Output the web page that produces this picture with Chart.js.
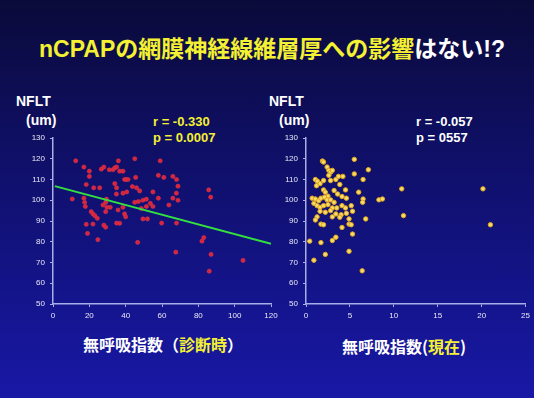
<!DOCTYPE html>
<html>
<head>
<meta charset="utf-8">
<script src="https://cdn.jsdelivr.net/npm/chart.js@4/dist/chart.umd.min.js"></script>
<style>
  html,body{margin:0;padding:0;}
  body{width:534px;height:398px;overflow:hidden;position:relative;
    background:linear-gradient(to bottom,#0a0a3a 0%,#10106e 45%,#1818a6 100%);
    font-family:"Liberation Sans","Noto Sans CJK JP",sans-serif;font-weight:bold;color:#fff;}
  .txt{position:absolute;white-space:nowrap;line-height:1;}
  .yel{color:#f4f032;}
  .box{position:absolute;}
</style>
</head>
<body>
<div class="txt" id="title" style="left:39px;top:38px;font-size:23px;"><span class="yel">nCPAPの網膜神経線維層厚への影響</span>はない!?</div>

<div class="txt" style="left:16px;top:94px;font-size:14px;">NFLT</div>
<div class="txt" style="left:26px;top:113px;font-size:14px;">(um)</div>
<div class="txt" style="left:269px;top:94px;font-size:14px;">NFLT</div>
<div class="txt" style="left:279px;top:113px;font-size:14px;">(um)</div>

<div class="txt yel" style="left:153px;top:115px;font-size:13px;">r = -0.330</div>
<div class="txt yel" style="left:153px;top:131px;font-size:13px;">p = 0.0007</div>
<div class="txt" style="left:416px;top:115px;font-size:13px;">r = -0.057</div>
<div class="txt" style="left:416px;top:131px;font-size:13px;">p = 0557</div>

<div class="txt" style="left:83px;top:336px;font-size:16px;font-family:'Noto Sans CJK JP',sans-serif;">無呼吸指数（<span class="yel">診断時</span>）</div>
<div class="txt" style="left:342px;top:338px;font-size:16px;font-family:'Noto Sans CJK JP',sans-serif;">無呼吸指数(<span class="yel">現在</span>)</div>

<div class="box" style="left:0;top:128px;width:285px;height:196px;"><canvas id="leftChart"></canvas></div>
<div class="box" style="left:253px;top:128px;width:281px;height:196px;"><canvas id="rightChart"></canvas></div>

<script>
// ----------------- Data -----------------
const yTicks = [50,60,70,80,90,100,110,120,130];

// AHI at diagnosis vs NFLT
const diagX = [12.5,17,20,20,18.3,22.4,25.7,26.6,28,31,33,34,35,36,36.7,38.5,39.4,40.4,41.3,45,45.5,34,35,34.9,38.5,40.6,43.7,46,47.7,49.5,51.4,47,45,53.6,55,51.4,48.6,49.5,52,55,58,59,58,61,66,68,68.8,67.9,66,68.8,63.8,59.8,68,85.7,86.8,10.6,17,17.4,17.8,21,22,23,24.4,18.3,22,19,28,29,29.7,29,29.4,27.5,31.5,29,35,36.7,39.4,40,38.5,35.8,24.7,46.6,67.6,83,82,87,86,104.6];
const diagY = [119,116,114,111.5,107.6,106,106,115,116,114.7,114.7,115.6,116,119,114,114,110,110,110,120,111,108,106,103,103.4,104,106.6,106,104.5,100,100.5,99.4,99,98.5,97,97,96,91,91,104,101,119,112,111,111.5,110,106.8,103.4,101,100,97.7,89,89,105,101.5,100.6,101,99,97,94.5,93.4,92.6,91.3,88.4,88.5,84,88,87,96.6,99,100.5,97.7,96.6,94.5,89,88.9,93.4,92,96.6,95.3,81,79.7,75,82,80.3,73.9,65.8,71];
const fitX = [1,120];
const fitY = [106.8,79];

// current AHI vs NFLT
const nowX = [1.87,2.0,5.5,7.1,2.4,2.6,2.8,3.0,2.6,5.5,1.07,1.3,1.2,1.6,2.0,2.8,3.4,3.7,4.2,3.85,4.5,6.5,2.0,2.2,2.5,3.2,3.6,4.1,4.6,6.0,6.5,6.45,0.7,1.07,1.45,1.7,2.1,2.4,2.8,3.2,0.9,1.26,1.6,2.0,2.5,3.0,3.5,4.1,4.5,5.15,1.6,2.2,2.8,3.4,4.0,4.6,5.3,1.26,1.07,1.7,2.0,3.0,3.85,4.9,4.9,5.15,4.1,5.3,6.8,8.3,8.7,10.9,11.1,20.15,21.0,0.42,1.7,3.0,3.4,0.9,2.2,4.9,6.4];
const nowY = [118.9,118.4,119.7,114.7,116,114.4,113.5,114.4,112,112.7,110,109.2,107,108,109.5,109.5,110,111.5,111.5,107.6,105,110,105,103.9,102,104.7,103,101.8,101,103.9,100.6,99,101,100.6,99.8,101,101.5,100.2,100.2,99,98.5,97.4,96.6,97.4,97.9,96.3,96.3,97.4,96.3,97.4,94.7,94.2,95,93.4,93,93.7,94.7,92,90.5,88.5,88.2,92,91.8,91,88.5,88.2,86.9,83.7,91,100.2,100.6,105.5,92.6,105.5,88.2,80.3,79.6,80.6,82.2,71.1,73.9,75.4,66];

// ----------------- Helpers -----------------
const axisColor = "#a9aee6";
const pts = (xs,ys)=>xs.map((x,i)=>({x:x,y:ys[i]}));

function makeScales(xMax, xStep, yWidth){
  const tickFont = {family:"Liberation Sans", size:8};
  return {
    x:{type:"linear", min:0, max:xMax,
       ticks:{stepSize:xStep, color:"#e8e8f6", font:tickFont, padding:4},
       grid:{display:true, drawOnChartArea:false, drawTicks:true, tickLength:3, color:axisColor},
       border:{color:axisColor, width:1.5},
       afterFit:s=>{s.height=20;}},
    y:{type:"linear", min:50, max:130,
       afterBuildTicks:s=>{s.ticks=yTicks.map(v=>({value:v}));},
       ticks:{color:"#e8e8f6", font:tickFont, padding:5},
       grid:{display:true, drawOnChartArea:false, drawTicks:true, tickLength:3, color:axisColor},
       border:{color:axisColor, width:1.5},
       afterFit:s=>{s.width=yWidth;}}
  };
}

const baseOpts = {
  responsive:true, maintainAspectRatio:false, animation:false,
  plugins:{legend:{display:false}, tooltip:{enabled:false}},
};

// ----------------- Left chart -----------------
new Chart(document.getElementById("leftChart"),{
  type:"scatter",
  data:{datasets:[
    {data:pts(fitX,fitY), type:"line", showLine:true, borderColor:"#33e040", borderWidth:2, pointRadius:0, order:0},
    {data:pts(diagX,diagY), backgroundColor:"#d8243c", borderColor:"#e03a4c", borderWidth:0.5, pointRadius:2.1, order:1}
  ]},
  options:Object.assign({}, baseOpts, {
    layout:{padding:{left:0, right:14, top:10, bottom:0}},
    scales:makeScales(120,20,53)
  })
});

// ----------------- Right chart -----------------
new Chart(document.getElementById("rightChart"),{
  type:"scatter",
  data:{datasets:[
    {data:pts(nowX,nowY), backgroundColor:"#f6dc6a", borderColor:"#e0a41c", borderWidth:1, pointRadius:2.2}
  ]},
  options:Object.assign({}, baseOpts, {
    layout:{padding:{left:0, right:8, top:10, bottom:0}},
    scales:makeScales(25,5,53)
  })
});
</script>
</body>
</html>
